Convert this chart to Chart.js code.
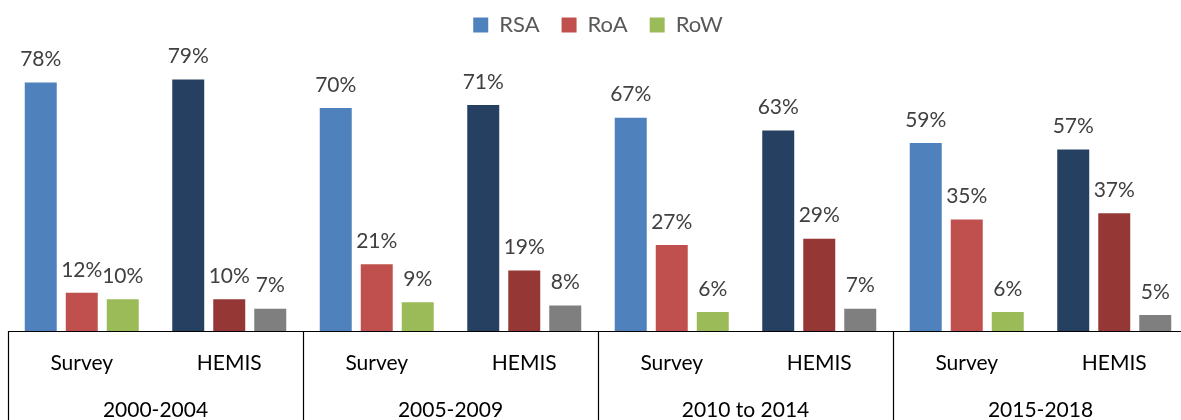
<!DOCTYPE html>
<html>
<head>
<meta charset="utf-8">
<script src="https://cdn.jsdelivr.net/npm/chart.js@4/dist/chart.umd.min.js"></script>
<style>
  html, body { margin: 0; padding: 0; background: #fff; overflow: hidden; }
  #wrap { width: 1220px; height: 420px; }
</style>
</head>
<body>
<div id="wrap"><canvas id="chart" width="1220" height="420"></canvas></div>
<script>
// data
const periods = ['2000-2004', '2005-2009', '2010 to 2014', '2015-2018'];
const sources = ['Survey', 'HEMIS'];
const seriesNames = ['RSA', 'RoA', 'RoW'];

const surveyRSA = [78, 70, 67, 59];
const hemisRSA = [79, 71, 63, 57];
const surveyRoA = [12, 21, 27, 35];
const hemisRoA = [10, 19, 29, 37];
const surveyRoW = [10, 9, 6, 6];
const hemisRoW = [7, 8, 7, 5];

const surveyColors = ['#4F81BD', '#C0504D', '#9BBB59'];
const hemisColors = ['#254061', '#953735', '#7F7F7F'];

const FONT = 'Lato, "Open Sans", sans-serif';

// Survey, HEMIS, Survey, HEMIS ...
let labels = [];
periods.forEach(() => sources.forEach(s => labels.push(s)));

function interleave(a, b) {
    let out = [];
    for (let i = 0; i < a.length; i++) { out.push(a[i]); out.push(b[i]); }
    return out;
}

const seriesData = [
    interleave(surveyRSA, hemisRSA),
    interleave(surveyRoA, hemisRoA),
    interleave(surveyRoW, hemisRoW)
];

const datasets = seriesNames.map((name, k) => ({
    label: name,
    data: seriesData[k],
    backgroundColor: labels.map((s, i) => i % 2 == 0 ? surveyColors[k] : hemisColors[k]),
    borderWidth: 0,
    categoryPercentage: 0.834,
    barPercentage: 0.78
}));

// value labels above the bars
const valueLabels = {
    id: 'valueLabels',
    afterDatasetsDraw(chart) {
        const ctx = chart.ctx;
        ctx.save();
        ctx.font = '21px ' + FONT;
        ctx.fillStyle = '#404040';
        ctx.textAlign = 'center';
        ctx.textBaseline = 'middle';
        chart.data.datasets.forEach((ds, k) => {
            chart.getDatasetMeta(k).data.forEach((bar, i) => {
                ctx.fillText(ds.data[i] + '%', bar.x, bar.y - 23);
            });
        });
        ctx.restore();
    }
};

// category table under the plot
const categoryTable = {
    id: 'categoryTable',
    afterDraw(chart) {
        const ctx = chart.ctx;
        const x = chart.scales.x;
        const area = chart.chartArea;
        const bottom = chart.height;
        const step = x.getPixelForValue(1) - x.getPixelForValue(0);
        ctx.save();
        ctx.strokeStyle = '#000';
        ctx.lineWidth = 1.2;
        ctx.beginPath();
        ctx.moveTo(area.left, area.bottom + 0.5);
        ctx.lineTo(area.right, area.bottom + 0.5);
        for (let p = 0; p <= periods.length; p++) {
            const px = Math.round(x.getPixelForValue(p * 2) - step / 2) + 0.5;
            ctx.moveTo(px, area.bottom);
            ctx.lineTo(px, bottom);
        }
        ctx.stroke();

        ctx.font = '21px ' + FONT;
        ctx.fillStyle = '#000';
        ctx.textAlign = 'center';
        ctx.textBaseline = 'middle';
        labels.forEach((lab, i) => {
            ctx.fillText(lab, x.getPixelForValue(i), area.bottom + 32);
        });
        periods.forEach((per, p) => {
            const cx = (x.getPixelForValue(p * 2) + x.getPixelForValue(p * 2 + 1)) / 2;
            ctx.fillText(per, cx, area.bottom + 79);
        });
        ctx.restore();
    }
};

new Chart(document.getElementById('chart'), {
    type: 'bar',
    data: { labels: labels, datasets: datasets },
    options: {
        responsive: false,
        animation: false,
        layout: { padding: { left: 8, right: 32, top: -8, bottom: 89 } },
        plugins: {
            legend: {
                position: 'top',
                labels: {
                    boxWidth: 15,
                    boxHeight: 15,
                    padding: 22,
                    color: '#595959',
                    font: { family: FONT, size: 22 },
                    generateLabels(chart) {
                        return chart.data.datasets.map((ds, k) => ({
                            text: ds.label,
                            fillStyle: surveyColors[k],
                            strokeStyle: surveyColors[k],
                            lineWidth: 0,
                            fontColor: '#595959',
                            datasetIndex: k
                        }));
                    }
                }
            },
            tooltip: { enabled: false }
        },
        scales: {
            x: { display: false },
            y: { display: false, min: 0, max: 89.5 }
        }
    },
    plugins: [valueLabels, categoryTable]
});
</script>
</body>
</html>
